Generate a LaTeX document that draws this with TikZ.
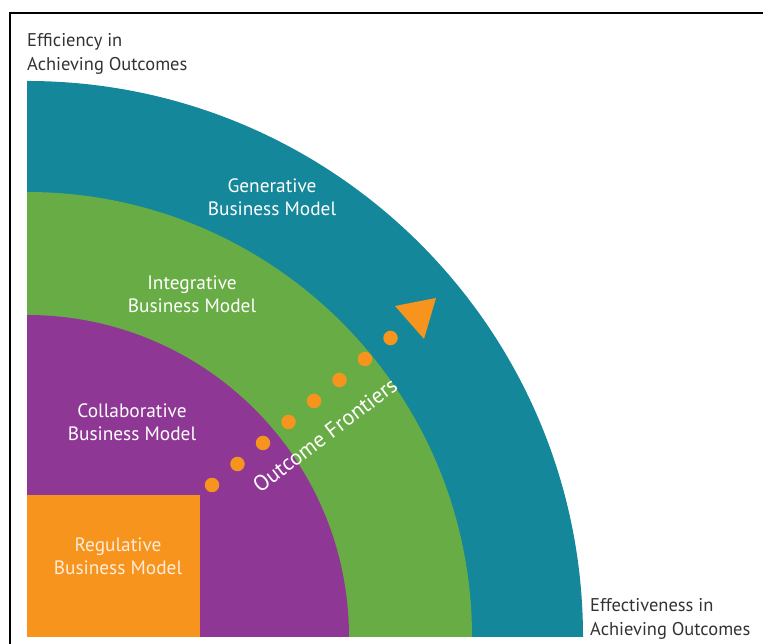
\documentclass[tikz,border=0pt]{standalone}
\usepackage{fontspec}
\setmainfont{PT Sans}
\usepackage{tikz}
\usetikzlibrary{calc,positioning}

\definecolor{teal1}{HTML}{15879A}
\definecolor{green1}{HTML}{68AC45}
\definecolor{purple1}{HTML}{8F3795}
\definecolor{orange1}{HTML}{F7941E}
\definecolor{gray1}{HTML}{333333}

\begin{document}
\begin{tikzpicture}[x=0.02cm, y=0.02cm,
    label/.style={align=center, font=\fontsize{11}{13}\selectfont, text=white},
    axis/.style={align=left, font=\fontsize{10.5}{14}\selectfont, text=gray1},
    dot/.style={circle, fill=orange1, inner sep=0pt, minimum size=0.29cm}]
    \useasboundingbox (0,0) rectangle (763,644);

    % Frame
    \draw[line width=1.4pt] (10,0) -- (10,631) -- (763,631);

    % Quarter discs and square
    \coordinate (O) at (27,7);
    \fill[teal1] (O) -- ++(556,0) arc[start angle=0, end angle=90, radius=556] -- cycle;
    \fill[green1] (O) -- ++(445,0) arc[start angle=0, end angle=90, radius=445] -- cycle;
    \fill[purple1] (O) -- ++(322,0) arc[start angle=0, end angle=90, radius=322] -- cycle;
    \fill[orange1] (O) rectangle ++(173,142);

    % Model labels
    \node[label] (gen) at (272,447) {Generative\\Business Model};
    \node[label] (int) at (192,350) {Integrative\\Business Model};
    \node[label] (col) at (132,222) {Collaborative\\Business Model};
    \node[label, text=orange!15!white] (reg) at (118,88) {Regulative\\Business Model};

    % Outcome frontiers
    \foreach \i in {0,...,7}
        \node[dot] (d\i) at (212+25.5*\i, 159+21*\i) {};
    \fill[orange1] (436,346) -- (395,338) -- (424,305) -- cycle;
    \node[label, font=\fontsize{12.5}{14}\selectfont, rotate=37] (front) at (325,209) {Outcome Frontiers};

    % Axis labels
    \node[axis, anchor=north west] (eff) at (21,617) {Efficiency in\\Achieving Outcomes};
    \node[axis, anchor=north west] (effe) at (584,52) {Effectiveness in\\Achieving Outcomes};
\end{tikzpicture}
\end{document}
